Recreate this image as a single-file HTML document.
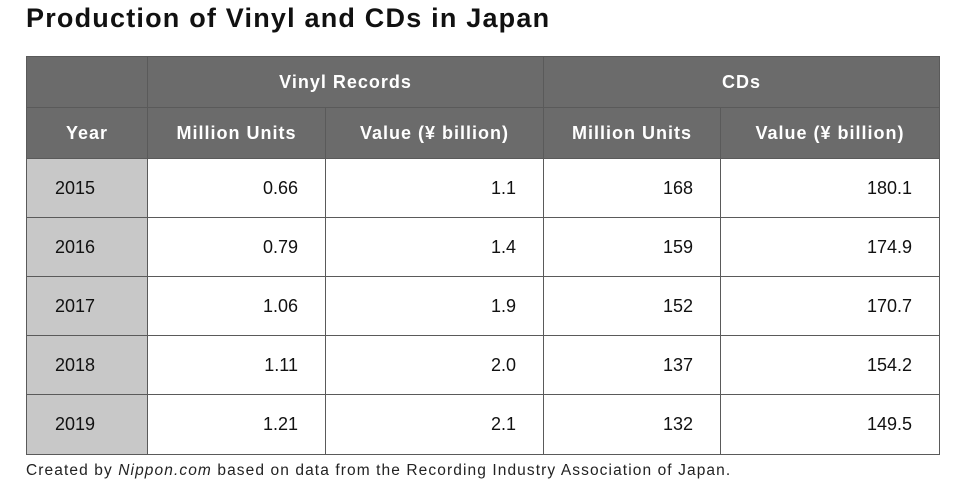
<!DOCTYPE html><html><head><style>
body{margin:0;width:961px;height:495px;background:#fff;font-family:"Liberation Sans",sans-serif;position:relative;overflow:hidden}
.t{position:absolute;left:26px;top:3px;font-size:27px;font-weight:bold;color:#111;letter-spacing:1.2px;white-space:nowrap}
.c{position:absolute;box-sizing:border-box;border:1px solid #5a5a5a;display:flex;align-items:center;font-size:18px;color:#111;white-space:nowrap}
.h{background:#6b6b6b;color:#fff;font-weight:bold;justify-content:center;letter-spacing:1px}
.y{background:#c8c8c8;padding-left:28px}
.n{background:#fff;justify-content:flex-end;padding-right:27px}
.f{position:absolute;left:26px;top:462px;font-size:15.5px;color:#222;letter-spacing:1.1px;white-space:nowrap}
</style></head><body>
<div class="t">Production of Vinyl and CDs in Japan</div>
<div id="g"></div>
<div class="f">Created by <i>Nippon.com</i> based on data from the Recording Industry Association of Japan.</div>
<script>
var X=[26,147,325,543,720,939],Y=[56,107,158,217,276,335,394,454],g=document.getElementById('g'),h='';
function cell(x0,x1,y0,y1,cls,t){h+='<div class="c '+cls+'" style="left:'+x0+'px;width:'+(x1-x0+1)+'px;top:'+y0+'px;height:'+(y1-y0+1)+'px">'+t+'</div>';}
cell(X[0],X[1],Y[0],Y[1],'h','');
cell(X[1],X[3],Y[0],Y[1],'h','Vinyl Records');
cell(X[3],X[5],Y[0],Y[1],'h','CDs');
var hd=['Year','Million Units','Value (¥ billion)','Million Units','Value (¥ billion)'];
for(var i=0;i<5;i++)cell(X[i],X[i+1],Y[1],Y[2],'h',hd[i]);
var d=[['2015','0.66','1.1','168','180.1'],['2016','0.79','1.4','159','174.9'],['2017','1.06','1.9','152','170.7'],['2018','1.11','2.0','137','154.2'],['2019','1.21','2.1','132','149.5']];
for(var r=0;r<5;r++)for(var i=0;i<5;i++)cell(X[i],X[i+1],Y[r+2],Y[r+3],i?'n':'y',d[r][i]);
g.innerHTML=h;
</script>
</body></html>
